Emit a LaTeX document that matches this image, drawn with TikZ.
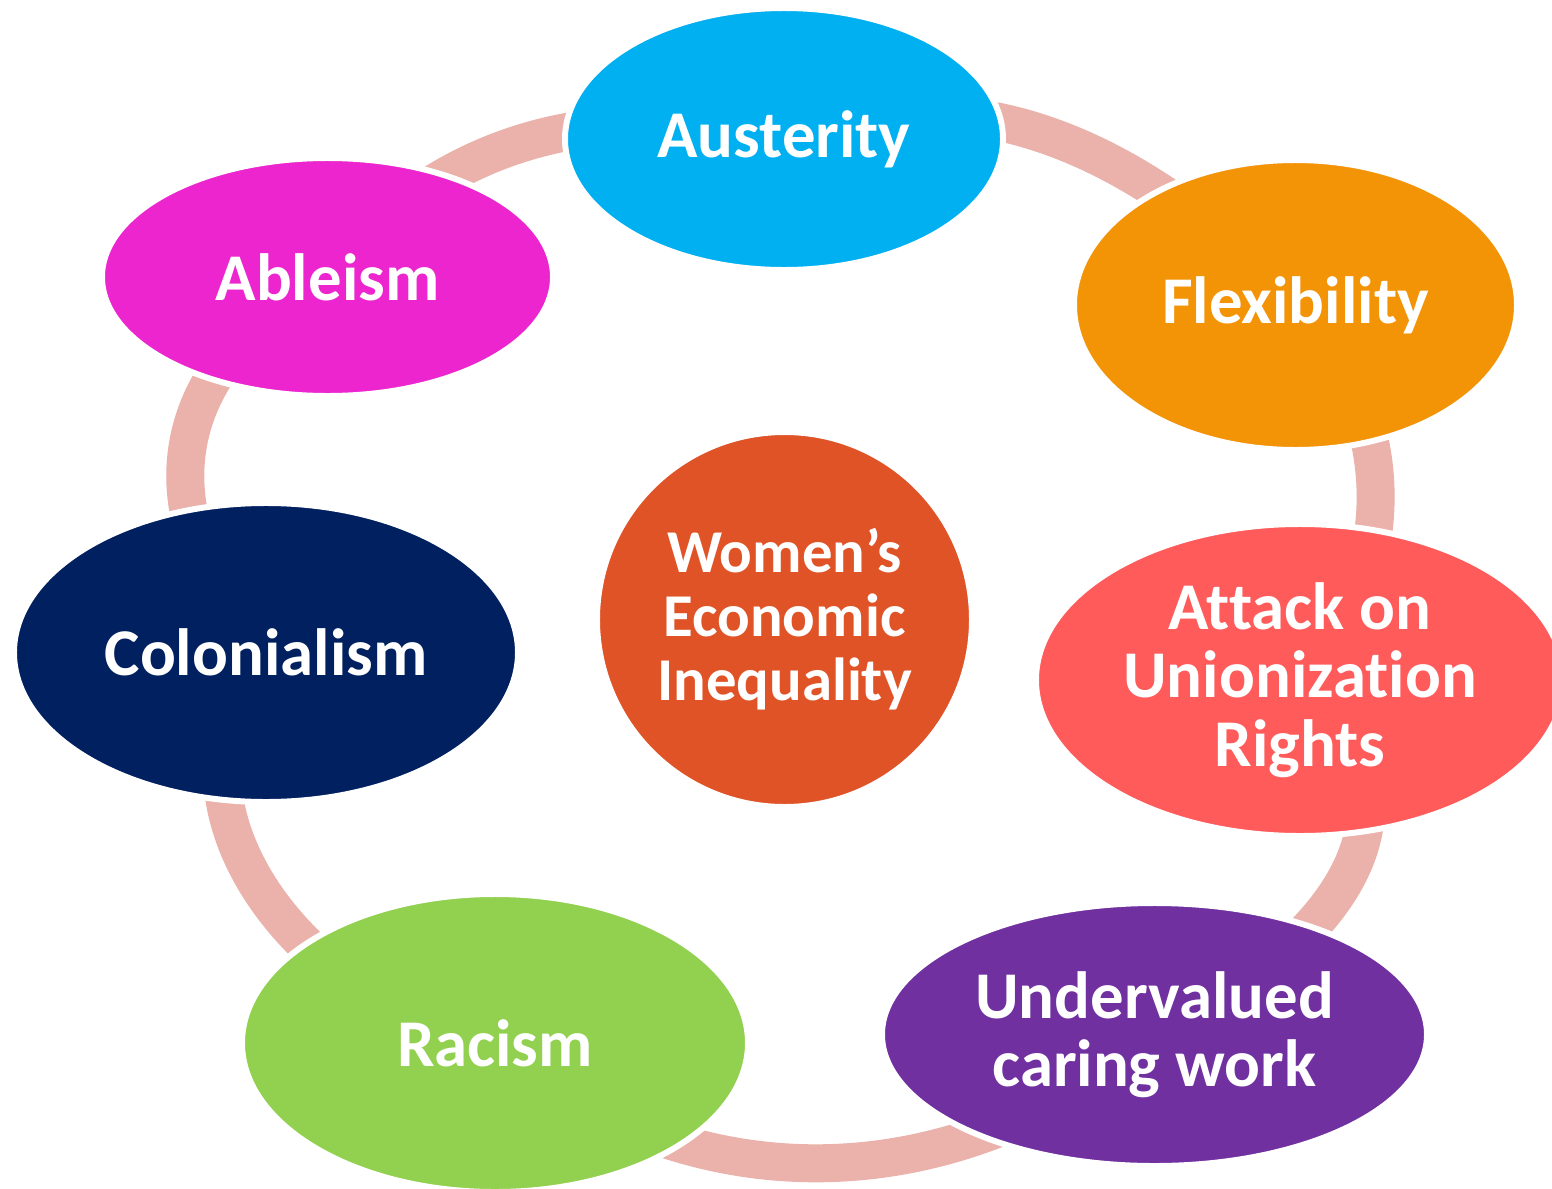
\documentclass[tikz,border=0pt]{standalone}
\usepackage{fontspec}
\setmainfont{Carlito}[Ligatures=NoCommon]
\usetikzlibrary{shapes,backgrounds}
\definecolor{austcol}{HTML}{00B0F0}
\definecolor{flexcol}{HTML}{F39407}
\definecolor{attcol}{HTML}{FF5B5B}
\definecolor{carecol}{HTML}{7030A0}
\definecolor{raccol}{HTML}{92D050}
\definecolor{colcol}{HTML}{002060}
\definecolor{ablcol}{HTML}{EC25CE}
\definecolor{womcol}{HTML}{E05326}
\definecolor{ringcol}{HTML}{EAB2AA}

\begin{document}
\begin{tikzpicture}[
    issue/.style={ellipse, draw=white, line width=1.7pt, inner sep=0pt, text=white, align=center,
        font=\fontsize{19}{19.5}\selectfont\bfseries},
    core/.style={circle, draw=white, line width=1.7pt, inner sep=0pt, text=white, align=center,
        minimum size=3.75cm, font=\fontsize{17.3}{18.2}\selectfont\bfseries},
    ringarc/.style={draw=ringcol, line width=0.38cm}]
\useasboundingbox (0,0) rectangle (15.52,-11.89);
%draw issue nodes
    \node[issue, fill=austcol, minimum width=4.38cm, minimum height=2.62cm] (aus) at (7.84,-1.39) {Austerity};
    \node[issue, fill=flexcol, minimum width=4.43cm, minimum height=2.90cm] (flex) at (12.955,-3.05) {Flexibility};
    \node[issue, fill=attcol, minimum width=5.28cm, minimum height=3.12cm] (att) at (13.00,-6.80) {Attack on\\Unionization\\Rights};
    \node[issue, fill=carecol, minimum width=5.45cm, minimum height=2.63cm] (care) at (11.545,-10.345) {Undervalued\\caring work};
    \node[issue, fill=raccol, minimum width=5.06cm, minimum height=2.98cm] (rac) at (4.95,-10.43) {Racism};
    \node[issue, fill=colcol, minimum width=5.04cm, minimum height=2.99cm] (col) at (2.66,-6.525) {Colonialism};
    \node[issue, fill=ablcol, minimum width=4.51cm, minimum height=2.38cm] (abl) at (3.275,-2.77) {Ableism};
%draw centre node
    \node[core, fill=womcol] (wom) at (7.845,-6.195) {Women’s\\Economic\\Inequality};
%draw ring behind the nodes
    \begin{scope}[on background layer]
       \fill[white] (0,0) rectangle (15.52,-11.89);
       \draw[ringarc] (aus.center) to[out=20,in=135] (flex.center);
       \draw[ringarc] (flex.center) to[out=-45,in=45] (att.center);
       \draw[ringarc] (att.center) to[out=-42,in=25,looseness=1.3] (care.center);
       \draw[ringarc] (care.center) to[out=-140,in=-40] (rac.center);
       \draw[ringarc] (rac.center) to[out=170,in=-130,looseness=1.1] (col.center);
       \draw[ringarc] (col.center) to[out=133,in=-152,looseness=1.25] (abl.center);
       \draw[ringarc] (abl.center) to[out=50,in=168] (aus.center);
    \end{scope}
\end{tikzpicture}
\end{document}
